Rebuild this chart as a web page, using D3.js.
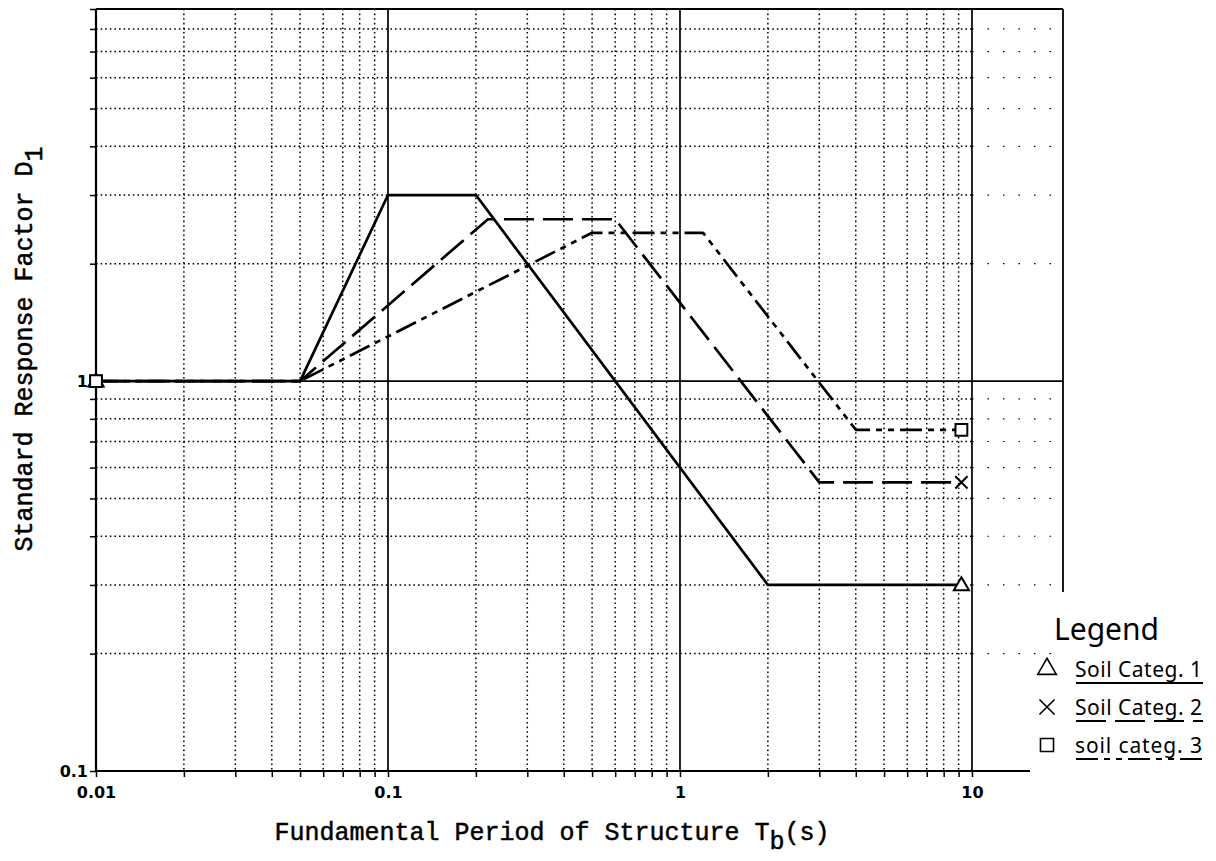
<!DOCTYPE html>
<html>
<head>
<meta charset="utf-8">
<script src="https://cdn.jsdelivr.net/npm/d3@7"></script>
<style>
  body { margin: 0; background: #fff; }
  svg { display: block; }
</style>
</head>
<body>
<svg class="chart" width="1216" height="861"></svg>
<script>
const soil1T = [0.01, 0.05, 0.1, 0.2, 2, 9.2];
const soil1D = [1, 1, 3, 3, 0.3, 0.3];
const soil2T = [0.01, 0.05, 0.22, 0.6, 3, 9.2];
const soil2D = [1, 1, 2.6, 2.6, 0.55, 0.55];
const soil3T = [0.01, 0.05, 0.5, 1.2, 4, 9.2];
const soil3D = [1, 1, 2.4, 2.4, 0.75, 0.75];
const seriesNames = ['Soil Categ. 1', 'Soil Categ. 2', 'soil categ. 3'];
const xMajor = [0.01, 0.1, 1, 10];
const xMajorLabels = ['0.01', '0.1', '1', '10'];
const yMajor = [0.1, 1];
const yMajorLabels = ['0.1', '1'];

const svg = d3.select('svg.chart');
const x = d3.scaleLog().domain([0.01, 20.5]).range([96, 1063]);
const y = d3.scaleLog().domain([0.1, 9]).range([771, 9]);

const decadeTicks = (lo, hi) => {
  const out = [];
  for (let e = lo; e < hi; e += 1) {
    for (let m = 1; m <= 9; m += 1) out.push(m * Math.pow(10, e));
  }
  return out;
};
const xTicks = decadeTicks(-2, 1).concat([10]);
const yTicks = decadeTicks(-1, 1).filter(v => v <= 9.01);
const isMajor = v => Math.abs(Math.log10(v) - Math.round(Math.log10(v))) < 1e-6;

// grid
const grid = svg.append('g').attr('class', 'grid');
grid.selectAll('line.vx')
  .data(xTicks.filter(v => v > 0.0101))
  .enter()
  .append('line')
  .attr('x1', d => x(d)).attr('x2', d => x(d))
  .attr('y1', y(9)).attr('y2', y(0.1))
  .style('stroke', '#000')
  .style('stroke-width', d => (isMajor(d) ? 1.7 : 1.5))
  .style('stroke-dasharray', d => (isMajor(d) ? null : '1.6,3'));
grid.selectAll('line.hy')
  .data(yTicks.filter(v => v > 0.101))
  .enter()
  .append('line')
  .attr('x1', x(0.01)).attr('x2', x(10))
  .attr('y1', d => y(d)).attr('y2', d => y(d))
  .style('stroke', '#000')
  .style('stroke-width', d => (isMajor(d) ? 1.9 : 1.5))
  .style('stroke-dasharray', d => (isMajor(d) ? null : '1.6,3'));
// sparse leftovers of the grid right of T = 10
grid.selectAll('line.hz')
  .data(yTicks.filter(v => v > 0.101))
  .enter()
  .append('line')
  .attr('x1', x(10)).attr('x2', x(20.5))
  .attr('y1', d => y(d)).attr('y2', d => y(d))
  .style('stroke', '#000')
  .style('stroke-width', d => (isMajor(d) ? 1.9 : 1.2))
  .style('stroke-dasharray', d => (isMajor(d) ? null : '1.5,14'));

// frame
svg.append('line')
  .attr('x1', x(0.01)).attr('x2', x(20.5)).attr('y1', y(9)).attr('y2', y(9))
  .style('stroke', '#000').style('stroke-width', 2.2);
svg.append('line')
  .attr('x1', x(20.5)).attr('x2', x(20.5)).attr('y1', y(9)).attr('y2', 592)
  .style('stroke', '#000').style('stroke-width', 1.8);

// axes
const xAxis = d3.axisBottom(x)
  .tickValues(xTicks)
  .tickSize(6)
  .tickFormat(d => { const i = xMajor.findIndex(v => Math.abs(v - d) < 1e-9); return i >= 0 ? xMajorLabels[i] : ''; });
const gx = svg.append('g').attr('transform', `translate(0,${y(0.1)})`).call(xAxis);
gx.select('.domain').attr('d', `M${x(0.01)},0H1030`).style('stroke-width', 2.2);
gx.selectAll('.tick line').style('stroke-width', 1.5);
gx.selectAll('.tick text')
  .attr('dy', '1.1em')
  .style('font-family', '"DejaVu Sans", sans-serif')
  .style('font-weight', 'bold')
  .style('font-size', '16px')
  .style('fill', '#000');

const yAxis = d3.axisLeft(y)
  .tickValues(yTicks)
  .tickSize(6)
  .tickFormat(d => { const i = yMajor.findIndex(v => Math.abs(v - d) < 1e-9); return i >= 0 ? yMajorLabels[i] : ''; });
const gy = svg.append('g').attr('transform', `translate(${x(0.01)},0)`).call(yAxis);
gy.select('.domain').attr('d', `M0,${y(0.1)}V${y(9)}`).style('stroke-width', 2.2);
gy.selectAll('.tick line').style('stroke-width', 1.5);
gy.selectAll('.tick text')
  .attr('x', -8)
  .style('font-family', '"DejaVu Sans", sans-serif')
  .style('font-weight', 'bold')
  .style('font-size', '16px')
  .style('fill', '#000');

// series
const series = [
  { t: soil1T, d: soil1D, dash: null, marker: 'triangle' },
  { t: soil2T, d: soil2D, dash: '30,9', marker: 'cross' },
  { t: soil3T, d: soil3D, dash: '22,6,6,6,6,6', marker: 'square' },
];
const line = d3.line().x(p => x(p[0])).y(p => y(p[1]));

svg.append('g')
  .selectAll('path')
  .data(series)
  .enter()
  .append('path')
  .attr('d', s => line(s.t.map((v, i) => [v, s.d[i]])))
  .style('fill', 'none')
  .style('stroke', '#000')
  .style('stroke-width', 2.7)
  .style('stroke-linejoin', 'round')
  .style('stroke-dasharray', s => s.dash);

const symbolFor = {
  triangle: d3.symbol().type(d3.symbolTriangle).size(100),
  cross: d3.symbol().type(d3.symbolTimes).size(100),
  square: d3.symbol().type(d3.symbolSquare).size(140),
};
const markerPts = [];
series.forEach((s) => {
  markerPts.push({ marker: s.marker, t: s.t[0], d: s.d[0] });
  markerPts.push({ marker: s.marker, t: s.t[s.t.length - 1], d: s.d[s.d.length - 1] });
});
svg.append('g')
  .selectAll('path')
  .data(markerPts)
  .enter()
  .append('path')
  .attr('transform', p => `translate(${x(p.t)},${y(p.d) + (p.marker === 'triangle' ? 1 : 0)})`)
  .attr('d', p => symbolFor[p.marker]())
  .style('fill', p => (p.marker === 'cross' ? 'none' : '#fff'))
  .style('stroke', '#000')
  .style('stroke-width', 2);

// axis titles
const xTitle = svg.append('text')
  .attr('x', 552)
  .attr('y', 840)
  .attr('text-anchor', 'middle')
  .style('font-family', '"Liberation Mono", "Courier New", monospace')
  .style('font-size', '25px')
  .style('fill', '#000')
  .style('stroke', '#000')
  .style('stroke-width', 0.5);
xTitle.append('tspan').text('Fundamental Period of Structure T');
xTitle.append('tspan').attr('dy', 9).text('b');
xTitle.append('tspan').attr('dy', -9).text('(s)');

const yTitle = svg.append('text')
  .attr('transform', 'translate(32,349) rotate(-90)')
  .attr('text-anchor', 'middle')
  .style('font-family', '"Liberation Mono", "Courier New", monospace')
  .style('font-size', '25px')
  .style('fill', '#000')
  .style('stroke', '#000')
  .style('stroke-width', 0.5);
yTitle.append('tspan').text('Standard Response Factor D');
yTitle.append('tspan').attr('dy', 10).text('1');

// legend
const legend = svg.append('g').attr('class', 'legend');
legend.append('text')
  .attr('x', 1054)
  .attr('y', 640)
  .style('font-family', '"Noto Sans", sans-serif')
  .style('font-size', '30px')
  .style('fill', '#000')
  .text('Legend');

const item = legend.selectAll('g.item')
  .data(series)
  .enter()
  .append('g')
  .attr('transform', (d, i) => `translate(0,${i * 38})`);

item.append('path')
  .attr('transform', 'translate(1047,669)')
  .attr('d', s => symbolFor[s.marker].size(s.marker === 'square' ? 170 : 150)())
  .style('fill', 'none')
  .style('stroke', '#000')
  .style('stroke-width', 1.6);

item.append('text')
  .attr('x', 1075)
  .attr('y', 677)
  .attr('textLength', 127)
  .style('font-family', '"Noto Sans", sans-serif')
  .style('font-size', '21px')
  .style('fill', '#000')
  .text((d, i) => seriesNames[i]);

item.append('line')
  .attr('x1', 1076).attr('x2', 1203)
  .attr('y1', 683).attr('y2', 683)
  .style('stroke', '#000')
  .style('stroke-width', 2.2)
  .style('stroke-dasharray', s => s.dash);
</script>
</body>
</html>
